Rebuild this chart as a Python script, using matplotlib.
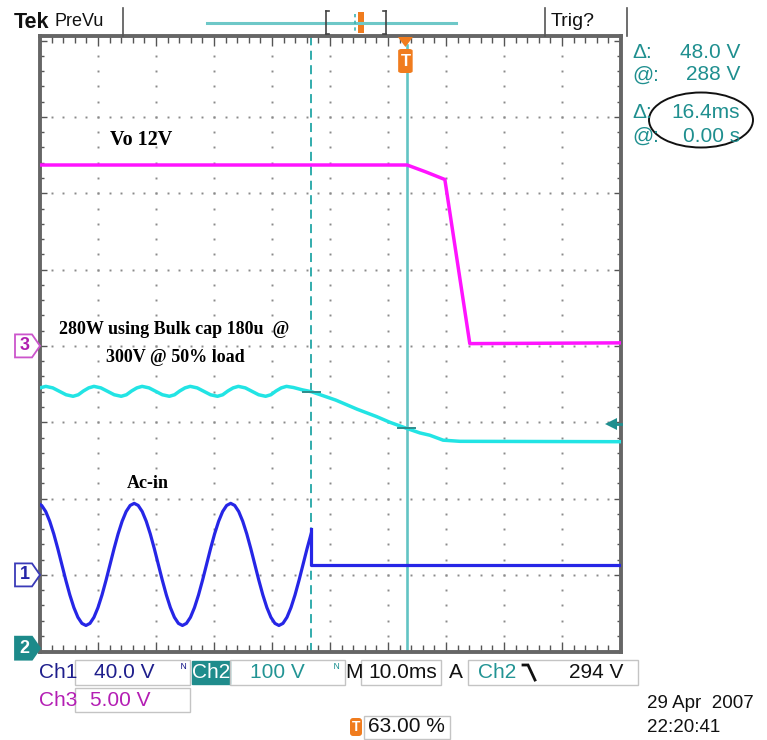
import numpy as np
import matplotlib
matplotlib.use("Agg")
import matplotlib.pyplot as plt
from matplotlib.patches import Polygon, Rectangle, Ellipse, FancyBboxPatch
from matplotlib.lines import Line2D
from matplotlib import transforms
from matplotlib.ticker import FixedLocator, NullFormatter

W, H = 767, 740

# ---- horizontal: 10 ms/div, trigger at 63 % of the record ----
t_left, t_right = -63.0, 37.17
cursor_a, cursor_b = -16.2, 0.2          # ms (delta 16.4 ms)

# ---- Ch1: AC input, 40 V/div ----
ch1_scale, ch1_pos = 40.0, -3.0
ac_t = np.linspace(-63.4, -16.26, 69)
ac_v = [37.5, 36.4, 33.2, 28.1, 21.5, 13.8, 5.5, -2.8, -10.5, -17.1, -22.2, -25.4,
        -26.5, -25.4, -22.2, -17.1, -10.5, -2.8, 5.5, 13.8, 21.5, 28.1, 33.2, 36.4,
        37.5, 36.4, 33.2, 28.1, 21.5, 13.8, 5.5, -2.8, -10.5, -17.1, -22.2, -25.4,
        -26.5, -25.4, -22.2, -17.1, -10.5, -2.8, 5.5, 13.8, 21.5, 28.1, 33.2, 36.4,
        37.5, 36.4, 33.2, 28.1, 21.5, 13.8, 5.5, -2.8, -10.5, -17.1, -22.2, -25.4,
        -26.5, -25.4, -22.2, -17.1, -10.5, -2.8, 5.5, 13.8, 21.5]
ac_cut_t = [-16.2, -16.2, 37.17]
ac_cut_v = [24.0, 5.2, 5.2]

# ---- Ch2: bulk capacitor, 100 V/div ----
ch2_scale, ch2_pos = 100.0, -3.96
bulk_t = [-63.0, -62.0, -60.8, -59.65, -58.5, -57.3, -56.4, -55.5, -54.6,
          -53.7, -52.5, -51.35, -50.2, -49.0, -48.1, -47.2, -46.3,
          -45.4, -44.2, -43.05, -41.9, -40.7, -39.8, -38.9, -38.0,
          -37.1, -35.9, -34.75, -33.6, -32.4, -31.5, -30.6, -29.7,
          -28.8, -27.6, -26.45, -25.3, -24.1, -23.2, -22.3, -21.4,
          -20.5, -19.3, -17.8, -16.2, -12.0, -8.3, -5.0, -2.7, 0.2,
          2.5, 4.2, 6.5, 9.4, 37.17]
bulk_v = [341, 343, 341, 336.5, 332, 330, 332, 337, 341,
          343, 341, 336.5, 332, 330, 332, 337, 341,
          343, 341, 336.5, 332, 330, 332, 337, 341,
          343, 341, 336.5, 332, 330, 332, 337, 341,
          343, 341, 336.5, 332, 330, 332, 337, 341,
          343, 341.5, 338.5, 336, 325, 313, 303.5, 296, 288,
          282, 279, 272.5, 271, 270.5]
trig_level = 294.0

# ---- Ch3: Vo 12 V output, 5 V/div ----
ch3_scale, ch3_pos = 5.0, 0.0
vo_t = [-63.0, 0.3, 3.5, 6.8, 11.1, 37.17]
vo_v = [11.85, 11.85, 11.4, 10.9, 0.15, 0.2]

# colours
C_CH1, C_CH2, C_CH3 = "#2626e6", "#22e4e4", "#ff14ff"
C_CH1_TXT, C_CH2_TXT, C_CH3_TXT = "#1e1e8c", "#229494", "#b41eb4"
C_TEAL = "#1f8f8f"
C_ORANGE = "#f07c1e"
C_GRID = "#8a8a8a"
C_FRAME = "#666666"
C_BOX = "#c4c4c4"

TEK = ["Liberation Sans", "DejaVu Sans"]
SERIF = ["Liberation Serif", "DejaVu Serif"]


def fx(x):
    return x / W


def fy(y):
    return 1 - y / H


fig = plt.figure(figsize=(W / 100, H / 100), dpi=100)
fig.patch.set_facecolor("white")

ax = fig.add_axes([fx(40), fy(652), (621 - 40) / W, (652 - 36) / H])
ax.set_xlim(t_left, t_right)
ax.set_ylim(-4.01, 4.06)
ax.set_facecolor("white")
for s in ax.spines.values():
    s.set_color(C_FRAME)
    s.set_linewidth(2.8)

ax.xaxis.set_major_locator(FixedLocator(np.arange(-63, 38, 10)))
ax.xaxis.set_minor_locator(FixedLocator(np.arange(-63, 38, 2)))
ax.yaxis.set_major_locator(FixedLocator(np.arange(-4, 4.01, 1)))
ax.yaxis.set_minor_locator(FixedLocator(np.arange(-4, 4.01, 0.2)))
ax.xaxis.set_major_formatter(NullFormatter())
ax.yaxis.set_major_formatter(NullFormatter())
ax.tick_params(which="both", direction="in", top=True, bottom=True, left=True,
               right=True, color="#555555", width=1.0)
ax.tick_params(which="major", length=7)
ax.tick_params(which="minor", length=5)
ax.tick_params(axis="y", which="major", length=5)
ax.tick_params(axis="y", which="minor", length=3)

# dotted graticule
for k in range(1, 10):
    tx = t_left + 10 * k
    ys = np.arange(-4 + 0.2, 4.0, 0.2)
    ax.plot(np.full_like(ys, tx), ys, ls="none", marker="s", ms=1.4,
            color=C_GRID, mew=0, zorder=1)
for k in range(-3, 4):
    xs = np.arange(t_left + 2, t_left + 100, 2)
    ax.plot(xs, np.full_like(xs, k, dtype=float), ls="none", marker="s", ms=1.4,
            color=C_GRID, mew=0, zorder=1)


def to_div(v, scale, pos):
    return np.asarray(v, dtype=float) / scale + pos


# cursors
ax.axvline(cursor_a, color="#22a6a6", lw=1.3, ls=(0, (5, 3)), zorder=2)
ax.axvline(cursor_b, color="#62c4c4", lw=1.9, zorder=2, ymin=0.0, ymax=0.985)

# traces
ax.plot(ac_t, to_div(ac_v, ch1_scale, ch1_pos), color=C_CH1, lw=2.3, zorder=4,
        solid_joinstyle="round")
ax.plot(ac_cut_t, to_div(ac_cut_v, ch1_scale, ch1_pos), color=C_CH1, lw=2.3, zorder=4)
ax.plot(bulk_t, to_div(bulk_v, ch2_scale, ch2_pos), color=C_CH2, lw=2.5, zorder=4,
        solid_joinstyle="round")
ax.plot(vo_t, to_div(vo_v, ch3_scale, ch3_pos), color=C_CH3, lw=2.5, zorder=4,
        solid_joinstyle="round")

# waveform cursor crosshairs on Ch2
for tc in (cursor_a, cursor_b):
    vc = np.interp(tc, bulk_t, bulk_v)
    yc = to_div(vc, ch2_scale, ch2_pos)
    ax.plot([tc - 1.4, tc + 1.4], [yc, yc], color="#2f8c8c", lw=1.4, zorder=5)

# trigger level arrow (right edge)
ty = to_div(trig_level, ch2_scale, ch2_pos)
ax.plot([35.6, 37.1], [ty, ty], color=C_TEAL, lw=2.0, zorder=6, clip_on=False)
ax.plot([35.4], [ty], marker="<", ms=8, color=C_TEAL, mew=0, zorder=6, clip_on=False)

# channel ground markers on the left
btr = transforms.blended_transform_factory(fig.transFigure, ax.transData)
hd = 11.5 / 76.33


def ground_marker(label, ylev, edge, face, txt):
    x0, x1, x2 = fx(15), fx(32), fx(40)
    verts = [(x0, ylev - hd), (x1, ylev - hd), (x2, ylev), (x1, ylev + hd), (x0, ylev + hd)]
    poly = Polygon(verts, closed=True, transform=btr, facecolor=face, edgecolor=edge,
                   lw=1.3, clip_on=False, zorder=7)
    fig.add_artist(poly)
    fig.text(fx(24.5), ylev, label, transform=btr, color=txt, fontsize=13,
             fontweight="bold", family=TEK, ha="center", va="center", zorder=8)


ground_marker("3", ch3_pos, "#cc55cc", "white", "#b01eb0")
ground_marker("1", ch1_pos, "#3a3ab8", "white", "#2626a8")
ground_marker("2", ch2_pos, "#1c8a8a", "#1c8a8a", "white")

# trigger position marker (top)
ttr = transforms.blended_transform_factory(ax.transData, fig.transFigure)
fig.add_artist(Polygon([(0.0 - 1.3, fy(37)), (0.0 + 1.3, fy(37)), (0.0, fy(47))],
                       closed=True, transform=ttr, facecolor=C_ORANGE, edgecolor="none",
                       zorder=9))
fig.add_artist(FancyBboxPatch((-1.25, fy(73)), 2.5, fy(49) - fy(73),
                              boxstyle="round,pad=0,rounding_size=0.6",
                              transform=ttr, facecolor=C_ORANGE, edgecolor="none", zorder=9,
                              mutation_aspect=0.004))
fig.text(0.0, fy(61), "T", transform=ttr, color="white", fontsize=12, fontweight="bold",
         family=TEK, ha="center", va="center", zorder=10)

# ---- top status bar ----
fig.text(fx(14), fy(22), "Tek", fontsize=15.5, fontweight="bold", family=TEK,
         va="center", ha="left", color="#111111")
fig.text(fx(55), fy(22), "PreVu", fontsize=13, family=TEK, va="center", ha="left",
         color="#111111")
fig.add_artist(Line2D([fx(123), fx(123)], [fy(8), fy(36)], color="#555555", lw=1.2))
fig.add_artist(Line2D([fx(545), fx(545)], [fy(8), fy(36)], color="#555555", lw=1.2))
fig.add_artist(Line2D([fx(627), fx(627)], [fy(8), fy(36)], color="#555555", lw=1.2))
fig.text(fx(551), fy(22), "Trig?", fontsize=14, family=TEK, va="center", ha="left",
         color="#111111")
fig.add_artist(Line2D([fx(207), fx(456)], [fy(22.5), fy(22.5)], color="#6ec8c8", lw=2.2))
for bx, d in ((326, 1), (386, -1)):
    fig.add_artist(Line2D([fx(bx), fx(bx)], [fy(11), fy(34)], color="#444444", lw=1.2))
    fig.add_artist(Line2D([fx(bx), fx(bx + 3 * d)], [fy(11), fy(11)], color="#444444", lw=1.2))
    fig.add_artist(Line2D([fx(bx), fx(bx + 3 * d)], [fy(34), fy(34)], color="#444444", lw=1.2))
fig.add_artist(Line2D([fx(355), fx(355)], [fy(14), fy(34)], color="#3cb4b4", lw=1.2,
                      ls=(0, (2, 2))))
fig.add_artist(Rectangle((fx(358), fy(33)), fx(6), (fy(12) - fy(33)),
                         facecolor=C_ORANGE, edgecolor="none"))

# ---- cursor readouts (right) ----
rd = [("Δ:", "48.0 V", 52), ("@:", "288 V", 75), ("Δ:", "16.4ms", 113), ("@:", "0.00 s", 136)]
for lab, val, yy in rd:
    fig.text(fx(632), fy(yy), lab, fontsize=15, family=TEK, color=C_TEAL,
             va="center", ha="left")
    fig.text(fx(740), fy(yy), val, fontsize=15, family=TEK, color=C_TEAL,
             va="center", ha="right")
fig.add_artist(Ellipse((fx(701), fy(120)), 104 / W, 55 / H, facecolor="none",
                       edgecolor="#111111", lw=1.4))

# ---- annotations ----
fig.text(fx(110), fy(140), "Vo 12V", fontsize=14.5, fontweight="bold", family=SERIF,
         va="center", ha="left", color="black")
fig.text(fx(174), fy(330), "280W using Bulk cap 180u  @", fontsize=13, fontweight="bold",
         family=SERIF, va="center", ha="center", color="black")
fig.text(fx(175), fy(358), "300V @ 50% load", fontsize=13, fontweight="bold",
         family=SERIF, va="center", ha="center", color="black")
fig.text(fx(148), fy(483), "Ac-in", fontsize=13, fontweight="bold", family=SERIF,
         va="center", ha="center", color="black")

# ---- bottom readouts ----
def box(x0, y0, x1, y1, face="none", edge=C_BOX):
    fig.add_artist(Rectangle((fx(x0), fy(y1)), (x1 - x0) / W, (y1 - y0) / H,
                             facecolor=face, edgecolor=edge, lw=1.0))


def txt(x, y, s, color="#111111", size=15, ha="left", **kw):
    fig.text(fx(x), fy(y), s, fontsize=size, family=TEK, color=color, va="center",
             ha=ha, **kw)


txt(39, 672, "Ch1", C_CH1_TXT)
box(75, 660, 190, 685)
txt(155, 672, "40.0 V", C_CH1_TXT, ha="right")
txt(181, 669, "ᴺ", C_CH1_TXT, size=9)
box(192, 661, 230, 684, face="#1f8c8c", edge="#1f8c8c")
txt(211, 672, "Ch2", "white", ha="center")
box(230, 660, 345, 685)
txt(305, 672, "100 V", C_CH2_TXT, ha="right")
txt(334, 669, "ᴺ", C_CH2_TXT, size=9)
txt(345, 672, "M", "#111111")
box(361, 660, 441, 685)
txt(437, 672, "10.0ms", "#111111", ha="right")
txt(449, 672, "A", "#111111")
box(468, 660, 638, 685)
txt(478, 672, "Ch2", C_CH2_TXT)
# falling-edge trigger slope symbol
fig.add_artist(Line2D([fx(523), fx(528), fx(535)], [fy(665), fy(665), fy(680)],
                      color="#111111", lw=2.0, solid_joinstyle="miter"))
txt(623, 672, "294 V", "#111111", ha="right")

txt(39, 700, "Ch3", C_CH3_TXT)
box(75, 688, 190, 712)
txt(150, 700, "5.00 V", C_CH3_TXT, ha="right")

txt(647, 704, "29 Apr  2007", "#111111", size=13.5)
txt(647, 727, "22:20:41", "#111111", size=13.5)

fig.add_artist(FancyBboxPatch((fx(350), fy(736)), 12 / W, 18 / H,
                              boxstyle="round,pad=0,rounding_size=0.004",
                              facecolor=C_ORANGE, edgecolor="none"))
txt(356, 727, "T", "white", size=10, ha="center", fontweight="bold")
box(364, 716, 450, 739)
txt(368, 727, "63.00 %", "#111111")

fig.savefig("out.png", dpi=100, facecolor="white")
